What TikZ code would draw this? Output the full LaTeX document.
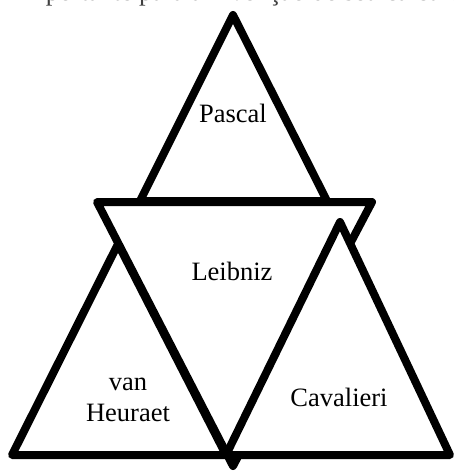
\documentclass[tikz,border=0pt]{standalone}
\usepackage{fontspec}
\setmainfont{Liberation Serif}
\begin{document}
\begin{tikzpicture}[x=1pt, y=-1pt,
		tri/.style={line width=8pt, line join=round, line cap=round, fill=white},
		who/.style={font=\fontsize{26.5}{31}\selectfont, align=center, inner sep=0pt}]
		\useasboundingbox (0,0) rectangle (454,473);
		% 顶点
		\coordinate (PA) at (233,15);
		\coordinate (PL) at (140,201);
		\coordinate (PR) at (327,201);
		\coordinate (LL) at (97,202);
		\coordinate (LR) at (372,202);
		\coordinate (LB) at (233,466);
		\coordinate (HA) at (118,244);
		\coordinate (HL) at (12,455);
		\coordinate (HR) at (226,455);
		\coordinate (CA) at (340,222);
		\coordinate (CR) at (450,455);
		% 上方被裁掉的文字
		\node[font=\fontsize{26.5}{31}\selectfont, text=black!75, anchor=base, inner sep=0pt] (caption) at (240,1) {importante para a invenção de seu cálculo};
		% 三角形（后画的盖住先画的）
		\draw[tri] (PA)--(PL)--(PR)--cycle;
		\draw[tri] (LL)--(LR)--(LB)--cycle;
		\draw[tri] (HA)--(HL)--(HR)--cycle;
		\draw[tri] (CA)--(HR)--(CR)--cycle;
		% 名字
		\node[who] (pascal) at (233,113) {Pascal};
		\node[who] (leibniz) at (232,271) {Leibniz};
		\node[who] (heuraet) at (128,400) {van\\Heuraet};
		\node[who] (cavalieri) at (339,397) {Cavalieri};
\end{tikzpicture}
\end{document}
